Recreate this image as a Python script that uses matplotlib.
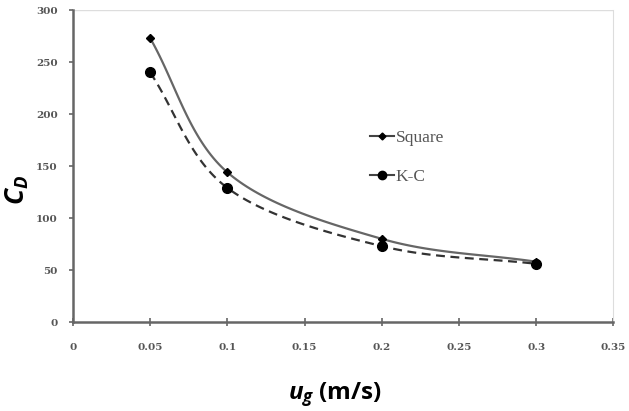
import numpy as np
import matplotlib
matplotlib.use("Agg")
import matplotlib.pyplot as plt
from matplotlib.lines import Line2D

plt.rcParams["mathtext.fontset"] = "custom"
plt.rcParams["mathtext.it"] = "Open Sans:italic:bold"
plt.rcParams["mathtext.bf"] = "Open Sans:bold"
plt.rcParams["mathtext.rm"] = "Open Sans:bold"

ug = [0.05, 0.1, 0.2, 0.3]
cd_square = [273, 144, 80, 58]
cd_kc = [240, 129, 73, 56]
xticks = [0, 0.05, 0.1, 0.15, 0.2, 0.25, 0.3, 0.35]
xticklabels = ["0", "0.05", "0.1", "0.15", "0.2", "0.25", "0.3", "0.35"]
yticks = [0, 50, 100, 150, 200, 250, 300]


def smooth(x, y, n=40):
    # Catmull-Rom spline through the data (Excel-style smoothed line)
    x = np.asarray(x, float); y = np.asarray(y, float)
    px = np.concatenate([[2*x[0]-x[1]], x, [2*x[-1]-x[-2]]])
    py = np.concatenate([[2*y[0]-y[1]], y, [2*y[-1]-y[-2]]])
    xs, ys = [], []
    t = np.linspace(0, 1, n)
    for i in range(1, len(px)-2):
        for P, out in ((px, xs), (py, ys)):
            p0, p1, p2, p3 = P[i-1], P[i], P[i+1], P[i+2]
            out.extend(0.5*((2*p1) + (-p0+p2)*t + (2*p0-5*p1+4*p2-p3)*t**2 + (-p0+3*p1-3*p2+p3)*t**3))
    return np.array(xs), np.array(ys)

fig = plt.figure(figsize=(6.29, 4.11), dpi=100)
ax = fig.add_axes([0.116, 0.2165, 0.859, 0.759])

sx, sy = smooth(ug, cd_square)
kx, ky = smooth(ug, cd_kc)
ax.plot(sx, sy, color="#666666", lw=1.6)
ax.plot(kx, ky, color="#333333", lw=1.6, ls=(0, (4, 2.5)))
ax.plot(ug, cd_square, ls="none", marker="D", ms=4, color="black")
ax.plot(ug, cd_kc, ls="none", marker="o", ms=7, color="black")

ax.set_xlim(0, 0.35)
ax.set_ylim(0, 300)
ax.set_xticks(xticks)
ax.set_xticklabels(xticklabels)
ax.set_yticks(yticks)
ax.axhline(300, color="#dddddd", lw=1)

ax.spines["top"].set_visible(False)
ax.spines["right"].set_color("#dddddd")
ax.spines["left"].set_color("#666666")
ax.spines["left"].set_linewidth(1.8)
ax.spines["bottom"].set_color("#666666")
ax.spines["bottom"].set_linewidth(1.8)

for lab in ax.get_xticklabels() + ax.get_yticklabels():
    lab.set_fontfamily("DejaVu Serif")
    lab.set_fontweight("bold")
    lab.set_fontsize(7.5)
    lab.set_color("#555555")
ax.tick_params(axis="y", direction="out", length=3, color="#666666", width=1.2, pad=8)
ax.tick_params(axis="x", direction="inout", length=6, color="#666666", width=1.2, pad=12)

fig.text(17/629, 1 - 190/411, r"$\mathit{C_D}$", fontsize=19, rotation=90,
         ha="center", va="center")
fig.text(335/629, 1 - 395/411, r"$\mathit{u_g}$ (m/s)", fontsize=17.5,
         fontfamily="Open Sans", fontweight="bold", ha="center", va="center")

handles = [Line2D([], [], color="#444444", marker="D", ms=3.5, lw=1.5, mfc="black", mec="black"),
           Line2D([], [], color="#444444", marker="o", ms=6, lw=1.5, mfc="black", mec="black")]
leg = ax.legend(handles, ["Square", "K-C"], loc="upper left", bbox_to_anchor=(0.52, 0.665),
                frameon=False, prop={"family": "Liberation Serif", "size": 12.5},
                handlelength=1.4, handletextpad=0.1, labelspacing=1.3, labelcolor="#555555")

fig.savefig("out.png", dpi=100)
